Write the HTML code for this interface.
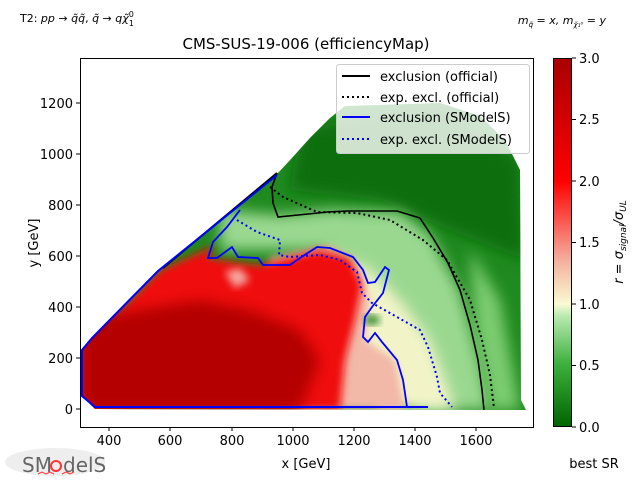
<!DOCTYPE html>
<html><head><meta charset="utf-8"><style>
body{margin:0;background:#fff;}
text{font-family:"DejaVu Sans","Liberation Sans",sans-serif;}
</style></head><body>
<svg width="640" height="480" viewBox="0 0 640 480" xmlns="http://www.w3.org/2000/svg">
<defs>
<clipPath id="dc"><polygon points="82,350 92,337 158,270 277,174 292,158 310,138 330,118 345,106 440,103 480,116 505,140 520,170 521,400 526,410 95,409 82,396"/></clipPath>
<filter id="bl" x="-20%" y="-20%" width="140%" height="140%"><feGaussianBlur stdDeviation="7"/></filter>
<filter id="bl2" x="-20%" y="-20%" width="140%" height="140%"><feGaussianBlur stdDeviation="4"/></filter>
<linearGradient id="cb" x1="0" y1="1" x2="0" y2="0">
<stop offset="0" stop-color="#006400"/><stop offset="0.17" stop-color="#3cb03c"/><stop offset="0.3" stop-color="#b8eab0"/><stop offset="0.333" stop-color="#fafad2"/><stop offset="0.45" stop-color="#f4b0a0"/><stop offset="0.667" stop-color="#ff0000"/><stop offset="1" stop-color="#a80000"/></linearGradient>
</defs>
<g clip-path="url(#dc)">
<rect x="80" y="100" width="450" height="315" fill="#1f8a1f"/>
<polygon points="300,130 440,100 520,160 525,260 450,230 380,200 290,190" fill="#0b6e0b" filter="url(#bl)"/>
<polygon points="220,210 280,215 330,210 400,212 430,235 460,290 480,360 490,410 420,410 380,330 330,250 220,250" fill="#9ad890" filter="url(#bl)"/>
<polygon points="470,250 500,300 515,380 520,410 490,410 475,330" fill="#7ccc70" filter="url(#bl)"/>
<polygon points="330,250 370,270 400,300 430,340 445,380 455,410 380,410 340,320" fill="#f2f4c8" filter="url(#bl)"/>
<polygon points="270,258 330,245 360,270 370,300 365,340 395,360 405,410 300,410 260,300" fill="#f2b8a8" filter="url(#bl2)"/>
<polygon points="80,350 160,270 215,245 208,258 260,265 320,250 350,258 362,285 355,320 345,360 340,410 80,410" fill="#f01010" filter="url(#bl2)"/>
<polygon points="225,272 240,268 250,280 235,288" fill="#f4a8a0" filter="url(#bl2)"/>
<polygon points="80,320 200,300 250,310 300,330 320,360 300,410 80,410" fill="#b40000" filter="url(#bl)"/>
<ellipse cx="372" cy="320" rx="8" ry="5" fill="#2a8a2a" filter="url(#bl2)"/>
</g>
<!-- contours -->
<polyline points="163,268 277,173" fill="none" stroke="#000" stroke-width="2"/>
<polyline points="277,173 272,187 273,203 278,217 318,213 327,212 347,211 397,211 420,218 433,238 448,263 460,290 470,325 478,360 482,390 484,410" fill="none" stroke="#000" stroke-width="1.6"/>
<polyline points="270,187 283,197 317,212 357,213 390,220 423,240 447,260 470,300 482,340 490,375 494,408" fill="none" stroke="#000" stroke-width="2" stroke-dasharray="2,3"/>
<polyline points="277,175 158,271 92,338 82,350 82,396 95,407 428,407" fill="none" stroke="#0000ff" stroke-width="2"/>
<polyline points="240,210 227,227 213,242 208,258 217,258 232,247 238,257 258,258 263,265 290,265 300,258 317,247 330,248 353,257 363,270 368,283 375,282 385,267 389,270 383,293 372,307 365,317 363,337 368,342 375,333 382,342 397,360 403,380 406,400 407,407" fill="none" stroke="#0000ff" stroke-width="1.8"/>
<polyline points="237,220 257,232 280,240 279,255 290,257 320,255 340,260 357,272 362,293 372,303 397,317 420,330 428,347 437,377 440,393 452,407" fill="none" stroke="#0000ff" stroke-width="2" stroke-dasharray="2,3"/>
<!-- axes -->
<rect x="80.5" y="58.5" width="453" height="369" fill="none" stroke="#000" stroke-width="1"/>
<g stroke="#000" stroke-width="1">
<line x1="109" y1="427" x2="109" y2="431"/><line x1="170" y1="427" x2="170" y2="431"/><line x1="232" y1="427" x2="232" y2="431"/><line x1="293" y1="427" x2="293" y2="431"/><line x1="354" y1="427" x2="354" y2="431"/><line x1="415" y1="427" x2="415" y2="431"/><line x1="476" y1="427" x2="476" y2="431"/>
<line x1="76" y1="409" x2="80" y2="409"/><line x1="76" y1="358" x2="80" y2="358"/><line x1="76" y1="307" x2="80" y2="307"/><line x1="76" y1="256" x2="80" y2="256"/><line x1="76" y1="205" x2="80" y2="205"/><line x1="76" y1="154" x2="80" y2="154"/><line x1="76" y1="103" x2="80" y2="103"/>
</g>
<g font-size="13" fill="#000" text-anchor="middle">
<text x="109" y="445">400</text><text x="170" y="445">600</text><text x="232" y="445">800</text><text x="293" y="445">1000</text><text x="354" y="445">1200</text><text x="415" y="445">1400</text><text x="476" y="445">1600</text>
</g>
<g font-size="13" fill="#000" text-anchor="end">
<text x="73" y="414">0</text><text x="73" y="363">200</text><text x="73" y="312">400</text><text x="73" y="261">600</text><text x="73" y="210">800</text><text x="73" y="159">1000</text><text x="73" y="108">1200</text>
</g>
<text x="306" y="468" font-size="13" text-anchor="middle">x [GeV]</text>
<text transform="translate(38,243) rotate(-90)" font-size="13" text-anchor="middle">y [GeV]</text>
<text x="306" y="49" font-size="15" text-anchor="middle">CMS-SUS-19-006 (efficiencyMap)</text>
<text x="20" y="22" font-size="11">T2: <tspan font-style="italic">pp</tspan> → <tspan font-style="italic">q̃q̃</tspan>, <tspan font-style="italic">q̃</tspan> → <tspan font-style="italic">qχ̃</tspan><tspan font-size="8" dy="-5">0</tspan><tspan font-size="8" dx="-5" dy="9">1</tspan></text>
<text x="606" y="24" font-size="11" text-anchor="end" font-style="italic">m<tspan font-size="7" dy="3">q̃</tspan><tspan dy="-3"> = x, m</tspan><tspan font-size="7" dy="3">χ̃₁⁰</tspan><tspan dy="-3"> = y</tspan></text>
<!-- legend -->
<rect x="336.5" y="64.5" width="193" height="89" rx="3" fill="#fff" fill-opacity="0.8" stroke="#ccc"/>
<line x1="342" y1="76" x2="370" y2="76" stroke="#000" stroke-width="2"/>
<line x1="342" y1="97" x2="370" y2="97" stroke="#000" stroke-width="2" stroke-dasharray="2,3"/>
<line x1="342" y1="117" x2="370" y2="117" stroke="#00f" stroke-width="2"/>
<line x1="342" y1="139" x2="370" y2="139" stroke="#00f" stroke-width="2" stroke-dasharray="2,3"/>
<g font-size="13" fill="#000">
<text x="380" y="81">exclusion (official)</text>
<text x="380" y="102">exp. excl. (official)</text>
<text x="380" y="122">exclusion (SModelS)</text>
<text x="380" y="144">exp. excl. (SModelS)</text>
</g>
<!-- colorbar -->
<rect x="553" y="58" width="19" height="369" fill="url(#cb)"/>
<rect x="553.5" y="58.5" width="18" height="368" fill="none" stroke="#000"/>
<g stroke="#000"><line x1="572" y1="58" x2="576" y2="58"/><line x1="572" y1="119.5" x2="576" y2="119.5"/><line x1="572" y1="181" x2="576" y2="181"/><line x1="572" y1="242.5" x2="576" y2="242.5"/><line x1="572" y1="304" x2="576" y2="304"/><line x1="572" y1="365.5" x2="576" y2="365.5"/><line x1="572" y1="427" x2="576" y2="427"/></g>
<g font-size="13" fill="#000">
<text x="579" y="63">3.0</text><text x="579" y="124">2.5</text><text x="579" y="186">2.0</text><text x="579" y="247">1.5</text><text x="579" y="309">1.0</text><text x="579" y="370">0.5</text><text x="579" y="432">0.0</text>
</g>
<text transform="translate(623,242) rotate(-90)" font-size="13" text-anchor="middle" font-style="italic">r = σ<tspan font-size="9" dy="3">signal</tspan><tspan dy="-3">/σ</tspan><tspan font-size="9" dy="3">UL</tspan></text>
<text x="594" y="468" font-size="13" text-anchor="middle">best SR</text>
<!-- logo -->
<ellipse cx="55" cy="462" rx="50" ry="14" fill="#eee"/>
<text x="22" y="472" font-size="20" fill="#666" font-family="Liberation Sans,sans-serif">SM</text>
<circle cx="56" cy="466" r="5" fill="none" stroke="#f33" stroke-width="2"/>
<text x="63" y="472" font-size="20" fill="#666" font-family="Liberation Sans,sans-serif">delS</text>
<path d="M38,474 l4,-2 4,2 4,-2 4,2 M62,474 l4,-2 4,2 4,-2" stroke="#f33" fill="none"/>
</svg>
</body></html>
